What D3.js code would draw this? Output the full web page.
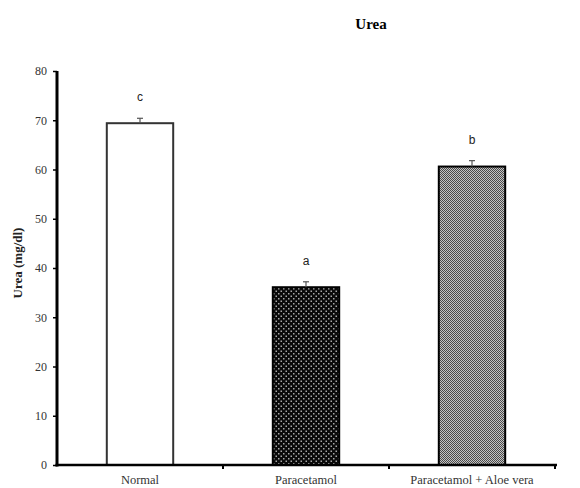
<!DOCTYPE html>
<html>
<head>
<meta charset="utf-8">
<script src="https://cdn.jsdelivr.net/npm/d3@7/dist/d3.min.js"></script>
<style>
  html, body { margin: 0; padding: 0; background: #fff; }
  svg { display: block; }
</style>
</head>
<body>
<div id="chart"></div>
<script>
// Serum urea by treatment group (mean ± error), with significance letters
const categories = ["Normal", "Paracetamol", "Paracetamol + Aloe vera"];
const means = [69.4, 36.1, 60.6];
const errors = [1.0, 1.1, 1.2];
const letters = ["c", "a", "b"];
const yTicks = [0, 10, 20, 30, 40, 50, 60, 70, 80];
const fills = ["#ffffff", "url(#dots)", "url(#dither)"];

const W = 580, H = 488;
const margin = { left: 57, right: 23, top: 71, bottom: 23 };

const svg = d3.select("#chart").append("svg")
  .attr("width", W).attr("height", H);

// Fill patterns for the treated groups
const defs = svg.append("defs");
const dots = defs.append("pattern").attr("id", "dots")
  .attr("patternUnits", "userSpaceOnUse").attr("width", 5).attr("height", 5);
dots.append("rect").attr("width", 5).attr("height", 5).attr("fill", "#0a0a0a");
dots.append("rect").attr("x", 0.5).attr("y", 0.5).attr("width", 1.5).attr("height", 1.5).attr("fill", "#a8a8a8");
dots.append("rect").attr("x", 3).attr("y", 3).attr("width", 1.5).attr("height", 1.5).attr("fill", "#a8a8a8");

const dither = defs.append("pattern").attr("id", "dither")
  .attr("patternUnits", "userSpaceOnUse").attr("width", 2).attr("height", 2);
dither.append("rect").attr("width", 2).attr("height", 2).attr("fill", "#c4c4c4");
dither.append("rect").attr("width", 1).attr("height", 1).attr("fill", "#4a4a4a");
dither.append("rect").attr("x", 1).attr("y", 1).attr("width", 1).attr("height", 1).attr("fill", "#4a4a4a");

const x = d3.scaleBand().domain(categories)
  .range([margin.left, 555]).paddingInner(0.6).paddingOuter(0.3);
const y = d3.scaleLinear().domain([0, 80]).range([465, margin.top]);

// Bars
svg.append("g").selectAll("rect").data(categories).join("rect")
  .attr("x", d => x(d))
  .attr("y", (d, i) => y(means[i]))
  .attr("width", x.bandwidth())
  .attr("height", (d, i) => y(0) - y(means[i]))
  .attr("fill", (d, i) => fills[i])
  .attr("stroke", (d, i) => i === 0 ? "#333" : "#000")
  .attr("stroke-width", 2);

// Error bars (upper whisker with cap)
const eb = svg.append("g").attr("stroke", "#555").attr("stroke-width", 1.2);
categories.forEach((c, i) => {
  const cx = x(c) + x.bandwidth() / 2;
  eb.append("line").attr("x1", cx).attr("x2", cx)
    .attr("y1", y(means[i])).attr("y2", y(means[i] + errors[i]));
  eb.append("line").attr("x1", cx - 3).attr("x2", cx + 3)
    .attr("y1", y(means[i] + errors[i])).attr("y2", y(means[i] + errors[i]));
});

// Significance letters
svg.append("g").selectAll("text").data(categories).join("text")
  .attr("x", d => x(d) + x.bandwidth() / 2)
  .attr("y", (d, i) => y(means[i] + errors[i]) - 17)
  .attr("text-anchor", "middle")
  .attr("font-family", "Liberation Sans, Arial, sans-serif")
  .attr("font-size", 12)
  .attr("fill", "#222")
  .text((d, i) => letters[i]);

// Y axis
const yAxis = svg.append("g").attr("transform", `translate(${margin.left},0)`)
  .call(d3.axisLeft(y).tickValues(yTicks).tickSize(4).tickPadding(6).tickFormat(d3.format("d")));
yAxis.select(".domain").attr("stroke", "#000").attr("stroke-width", 3)
  .attr("d", `M0,${y(80)}V${y(0) + 1.5}`);
yAxis.selectAll(".tick line").attr("stroke", "#000").attr("stroke-width", 1.5);
yAxis.selectAll(".tick text")
  .attr("font-family", "Liberation Serif, Times New Roman, serif")
  .attr("font-size", 12).attr("fill", "#333");

// X axis: boundary ticks between groups
const xg = svg.append("g");
xg.append("line").attr("x1", margin.left - 1.5).attr("x2", 557)
  .attr("y1", y(0)).attr("y2", y(0))
  .attr("stroke", "#000").attr("stroke-width", 2.5);
const bounds = [1, 2, 3].map(k => margin.left + (555 - margin.left) / 3 * k);
xg.selectAll("line.tk").data(bounds).join("line").attr("class", "tk")
  .attr("x1", d => d).attr("x2", d => d)
  .attr("y1", y(0)).attr("y2", y(0) + 4)
  .attr("stroke", "#000").attr("stroke-width", 2);
xg.selectAll("text").data(categories).join("text")
  .attr("x", d => x(d) + x.bandwidth() / 2)
  .attr("y", 484)
  .attr("text-anchor", "middle")
  .attr("font-family", "Liberation Serif, Times New Roman, serif")
  .attr("font-size", 12.5).attr("fill", "#333")
  .text(d => d);

// Axis title
svg.append("text")
  .attr("transform", `translate(22,263) rotate(-90)`)
  .attr("text-anchor", "middle")
  .attr("font-family", "Liberation Serif, Times New Roman, serif")
  .attr("font-weight", "bold").attr("font-size", 13).attr("fill", "#222")
  .text("Urea (mg/dl)");

// Chart title
svg.append("text")
  .attr("x", 371).attr("y", 29)
  .attr("text-anchor", "middle")
  .attr("font-family", "Liberation Serif, Times New Roman, serif")
  .attr("font-weight", "bold").attr("font-size", 15).attr("fill", "#000")
  .text("Urea");
</script>
</body>
</html>
